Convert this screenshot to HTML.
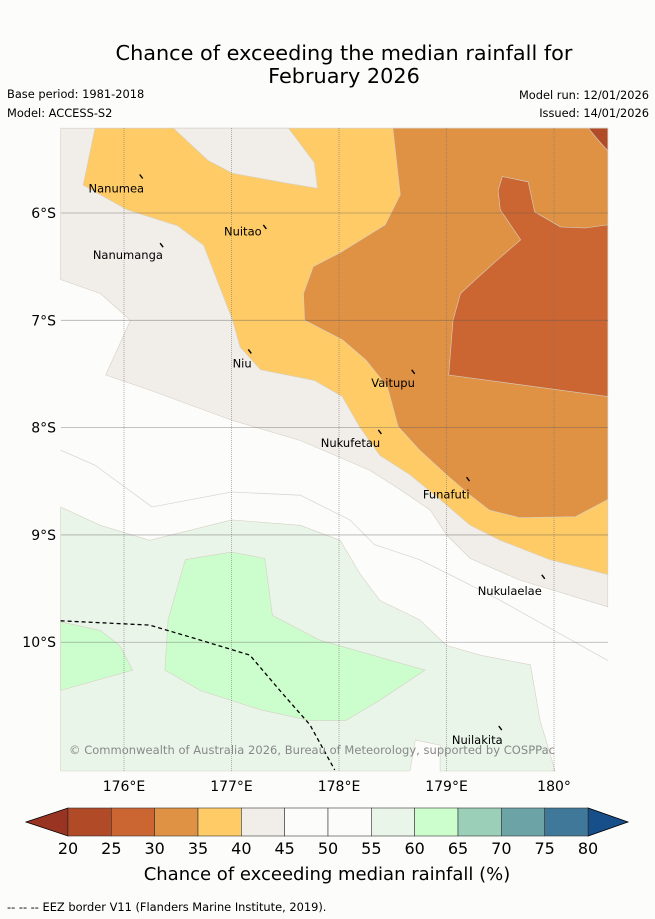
<!DOCTYPE html>
<html><head><meta charset="utf-8"><style>
body{margin:0;background:#fcfdfb;font-family:"Liberation Sans","DejaVu Sans",sans-serif}
svg{display:block}
</style></head><body>
<svg id="chart" width="655" height="919" xmlns="http://www.w3.org/2000/svg" font-family="DejaVu Sans, Liberation Sans, sans-serif">
<rect width="655" height="919" fill="#fcfdfb"/>
<text x="344" y="60" text-anchor="middle" font-size="20.8" fill="#000">Chance of exceeding the median rainfall for</text>
<text x="344" y="83" text-anchor="middle" font-size="20.8" fill="#000">February 2026</text>
<text x="7" y="98" font-size="11.4">Base period: 1981-2018</text>
<text x="7" y="117" font-size="11.4">Model: ACCESS-S2</text>
<text x="649" y="99" font-size="11.4" text-anchor="end">Model run: 12/01/2026</text>
<text x="649" y="117" font-size="11.4" text-anchor="end">Issued: 14/01/2026</text>
<g id="map"></g>
<g id="cbar"></g>
<text x="327" y="880" text-anchor="middle" font-size="18">Chance of exceeding median rainfall (%)</text>
<text x="7" y="911" font-size="11.4">--  --  -- EEZ border V11 (Flanders Marine Institute, 2019).</text>
</svg>
<script>
const levels=[20,25,30,35,40,45,50,55,60,65,70,75,80];
const levelColors=["#b14a26","#cb6633","#e09244","#fecb66","#f1ede8","#fcfdfb","#fcfdfb","#eaf5ea","#ccfdcc","#9bcfb8","#6ba3a6","#3f7898"];
const underColor="#993322", overColor="#164f8a";
const lonTicks=[176,177,178,179,180];
const lonLabels=["176°E","177°E","178°E","179°E","180°"];
const latTicks=[6,7,8,9,10];
const latLabels=["6°S","7°S","8°S","9°S","10°S"];
const lonMin=175.414, lonMax=180.502, latMin=5.208, latMax=11.2;
const beige=[[175.41,5.21],[180.50,5.21],[180.50,9.67],[179.68,9.42],[179.22,9.22],[179.00,9.00],[178.85,8.77],[178.57,8.58],[178.29,8.40],[177.64,8.12],[177.00,7.93],[176.24,7.65],[175.83,7.51],[176.06,7.00],[175.78,6.75],[175.41,6.62]];
const yellow=[[175.73,5.21],[175.62,5.74],[176.03,5.97],[176.50,6.12],[176.74,6.30],[177.01,7.00],[177.08,7.25],[177.27,7.46],[177.77,7.56],[178.03,7.71],[178.19,7.99],[178.38,8.26],[178.66,8.44],[178.94,8.67],[179.22,8.91],[179.50,9.05],[179.96,9.23],[180.50,9.37],[180.50,5.21]];
const beigeBlob=[[176.46,5.21],[176.78,5.51],[177.01,5.63],[177.50,5.72],[177.80,5.77],[177.77,5.53],[177.56,5.25],[177.53,5.21]];
const orange=[[178.50,5.21],[178.57,5.83],[178.43,6.11],[178.01,6.37],[177.76,6.50],[177.67,6.75],[177.68,7.00],[178.03,7.18],[178.25,7.37],[178.45,7.62],[178.55,7.99],[178.75,8.21],[179.00,8.44],[179.22,8.63],[179.40,8.77],[179.68,8.84],[180.20,8.83],[180.50,8.67],[180.50,5.21]];
const darkOrange=[[179.52,5.66],[179.76,5.71],[179.82,5.99],[180.06,6.13],[180.29,6.14],[180.50,6.11],[180.50,7.71],[179.02,7.51],[179.06,7.00],[179.13,6.75],[179.27,6.62],[179.47,6.44],[179.69,6.25],[179.50,5.97],[179.48,5.79]];
const darkest=[[180.32,5.21],[180.50,5.21],[180.50,5.42],[180.41,5.32]];
const lightGreen=[[175.41,8.74],[175.78,8.91],[176.24,9.05],[177.00,8.86],[177.64,8.91],[178.01,9.05],[178.20,9.37],[178.38,9.61],[178.75,9.79],[179.00,10.03],[179.31,10.12],[179.78,10.21],[179.87,10.73],[180.01,11.2],[178.94,11.2],[178.94,10.96],[178.71,10.91],[178.66,11.2],[175.41,11.2]];
const greenBig=[[176.57,9.23],[177.00,9.16],[177.31,9.22],[177.38,9.75],[177.82,9.98],[178.80,10.26],[178.38,10.54],[178.06,10.73],[177.73,10.73],[177.27,10.63],[176.71,10.45],[176.38,10.26],[176.41,9.79]];
const greenSmall=[[175.41,9.81],[175.78,9.89],[175.96,10.03],[176.08,10.26],[175.41,10.45]];
const contour50=[[175.41,8.21],[175.73,8.35],[176.26,8.74],[177.00,8.60],[177.64,8.63],[178.10,8.86],[178.33,9.09],[178.75,9.23],[179.13,9.42],[179.50,9.61],[180.50,10.17]];
const eez=[[175.41,9.80],[176.24,9.84],[176.71,9.98],[177.17,10.12],[177.45,10.45],[177.73,10.77],[177.96,11.19]];
const islandNames=["Nanumea","Nuitao","Nanumanga","Niu","Vaitupu","Nukufetau","Funafuti","Nukulaelae","Nuilakita"];
const islandLon=[176.16,177.31,176.35,177.17,178.69,178.38,179.20,179.90,179.50];
const islandLat=[5.66,6.13,6.30,7.29,7.48,8.04,8.48,9.39,10.80];
const labelLon=[175.67,176.93,175.71,177.01,178.30,177.83,178.78,179.29,179.05];
const labelLat=[5.81,6.21,6.43,7.44,7.62,8.18,8.66,9.56,10.95];

const X0=61,X1=608,Y0=128,Y1=771;
const X=lon=>X0+(lon-lonMin)/(lonMax-lonMin)*(X1-X0);
const Y=lat=>Y0+(lat-latMin)/(latMax-latMin)*(Y1-Y0);
const NS="http://www.w3.org/2000/svg";
const map=document.getElementById('map');
function mk(tag,attrs,parent){const e=document.createElementNS(NS,tag);for(const k in attrs)e.setAttribute(k,attrs[k]);parent.appendChild(e);return e;}
const pts=a=>a.map(p=>X(p[0]).toFixed(1)+","+Y(p[1]).toFixed(1)).join(" ");
let r=mk('rect',{x:X0,y:Y0,width:X1-X0,height:Y1-Y0,fill:"#fcfdfb"},map);


const layers=[[beige,4,"region-40-45"],[yellow,3,"region-35-40"],[beigeBlob,4,"region-40-45-north"],[orange,2,"region-30-35"],[darkOrange,1,"region-25-30"],[darkest,0,"region-20-25"],[lightGreen,7,"region-55-60"],[greenBig,8,"region-60-65"],[greenSmall,8,"region-60-65-west"]];
layers.forEach(l=>{const p=mk('polygon',{points:pts(l[0]),fill:levelColors[l[1]],stroke:"#d6d0c4","stroke-width":0.6},map);

});
let c=mk('polyline',{points:pts(contour50),fill:"none",stroke:"#d8d8d8","stroke-width":0.8},map);


lonTicks.forEach((t,i)=>{const g=mk('line',{x1:X(t),x2:X(t),y1:Y0,y2:Y1,stroke:"#777","stroke-width":0.8,"stroke-dasharray":"1,1","opacity":0.7},map);


const tx=mk('text',{x:X(t),y:791,"text-anchor":"middle","font-size":14},map);tx.textContent=lonLabels[i];

});
latTicks.forEach((t,i)=>{const g=mk('line',{x1:X0,x2:X1,y1:Y(t),y2:Y(t),stroke:"#555","stroke-width":0.8,"opacity":0.45},map);


const tx=mk('text',{x:56,y:Y(t)+5,"text-anchor":"end","font-size":14},map);tx.textContent=latLabels[i];

});
let e=mk('polyline',{points:pts(eez),fill:"none",stroke:"#000","stroke-width":1.3,"stroke-dasharray":"4,3"},map);


islandNames.forEach((n,i)=>{const m=mk('line',{x1:X(islandLon[i])-1.5,y1:Y(islandLat[i])-2,x2:X(islandLon[i])+1.5,y2:Y(islandLat[i])+2,stroke:"#000","stroke-width":1.4},map);


const t=mk('text',{x:X(labelLon[i]),y:Y(labelLat[i]),"font-size":11.5},map);t.textContent=n;

});
const cp=mk('text',{x:69,y:754,"font-size":11.5,fill:"#888","textLength":486},map);cp.textContent="© Commonwealth of Australia 2026, Bureau of Meteorology, supported by COSPPac";



const cb=document.getElementById('cbar');
const CB0=68,CB1=588,CBY=808,CBH=28;
const CX=v=>CB0+(v-levels[0])/(levels[levels.length-1]-levels[0])*(CB1-CB0);
let tl=mk('polygon',{points:`${CB0},${CBY} ${CB0},${CBY+CBH} 26,${CBY+CBH/2}`,fill:underColor,stroke:"#000","stroke-width":0.8},cb);


let tr=mk('polygon',{points:`${CB1},${CBY} ${CB1},${CBY+CBH} 628,${CBY+CBH/2}`,fill:overColor,stroke:"#000","stroke-width":0.8},cb);


levelColors.forEach((col,i)=>{const s=mk('rect',{x:CX(levels[i]),y:CBY,width:CX(levels[i+1])-CX(levels[i]),height:CBH,fill:col,stroke:"#333","stroke-width":0.6},cb);

});
levels.forEach(v=>{const t=mk('text',{x:CX(v),y:854,"text-anchor":"middle","font-size":16},cb);t.textContent=v;

});
</script>
</body></html>
